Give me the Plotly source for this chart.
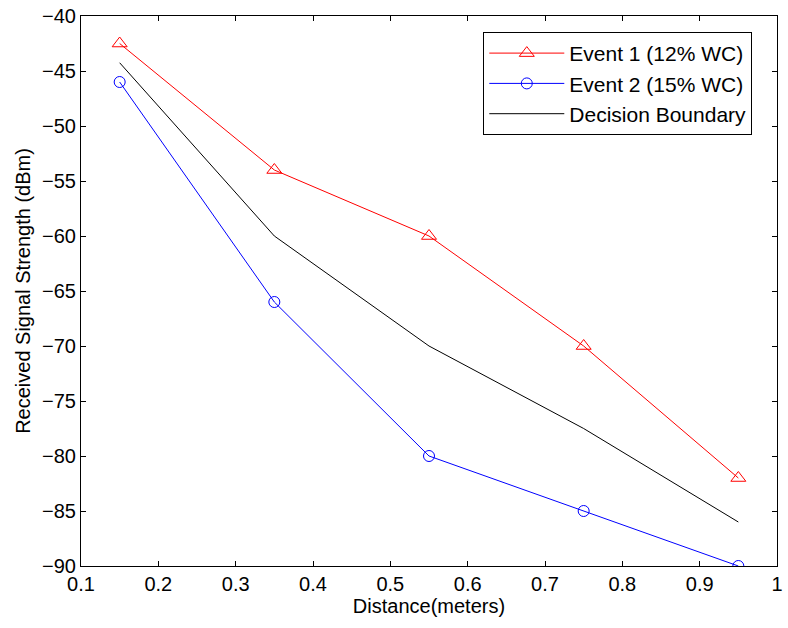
import plotly.graph_objects as go

distance = [0.15, 0.35, 0.55, 0.75, 0.95]
event1 = [-42.5, -54, -60, -70, -82]
event2 = [-46, -66, -80, -85, -90]
boundary = [-44.25, -60, -70, -77.5, -86]
x_ticks = [0.1, 0.2, 0.3, 0.4, 0.5, 0.6, 0.7, 0.8, 0.9, 1.0]
x_labels = ["0.1", "0.2", "0.3", "0.4", "0.5", "0.6", "0.7", "0.8", "0.9", "1"]
y_ticks = [-40, -45, -50, -55, -60, -65, -70, -75, -80, -85, -90]

FONT = "Liberation Sans, Arial, Helvetica, sans-serif"

fig = go.Figure()
fig.add_trace(go.Scatter(x=distance, y=event1, mode="lines+markers", name="Event 1 (12% WC)",
                         line=dict(color="#ff0000", width=1),
                         marker=dict(symbol="triangle-up-open", size=13, color="#ff0000", line=dict(width=1))))
fig.add_trace(go.Scatter(x=distance, y=event2, mode="lines+markers", name="Event 2 (15% WC)",
                         line=dict(color="#0000ff", width=1),
                         marker=dict(symbol="circle-open", size=11, color="#0000ff", line=dict(width=1))))
fig.add_trace(go.Scatter(x=distance, y=boundary, mode="lines", name="Decision Boundary",
                         line=dict(color="#000000", width=1)))

axis_common = dict(showgrid=False, zeroline=False, showline=True, linecolor="black", linewidth=1,
                   mirror="ticks", ticks="inside", ticklen=5, tickcolor="black",
                   tickfont=dict(family=FONT, size=20, color="black"))
fig.update_layout(
    width=788, height=628,
    margin=dict(l=81, r=5, t=13, b=62),
    plot_bgcolor="white", paper_bgcolor="white",
    font=dict(family=FONT, size=20, color="black"),
    xaxis=dict(range=[0.1, 1.0], tickvals=x_ticks, ticktext=x_labels,
               title=dict(text="Distance(meters)", standoff=0, font=dict(size=20)), **axis_common),
    yaxis=dict(range=[-90, -40], tickvals=y_ticks,
               title=dict(text="Received Signal Strength (dBm)", standoff=6, font=dict(size=20)), **axis_common),
    legend=dict(x=0.578, y=0.971, xanchor="left", yanchor="top", bgcolor="white",
                bordercolor="black", borderwidth=1, font=dict(size=21), tracegroupgap=0,
                itemwidth=75),
    showlegend=True,
)
fig.write_html("out.html")
